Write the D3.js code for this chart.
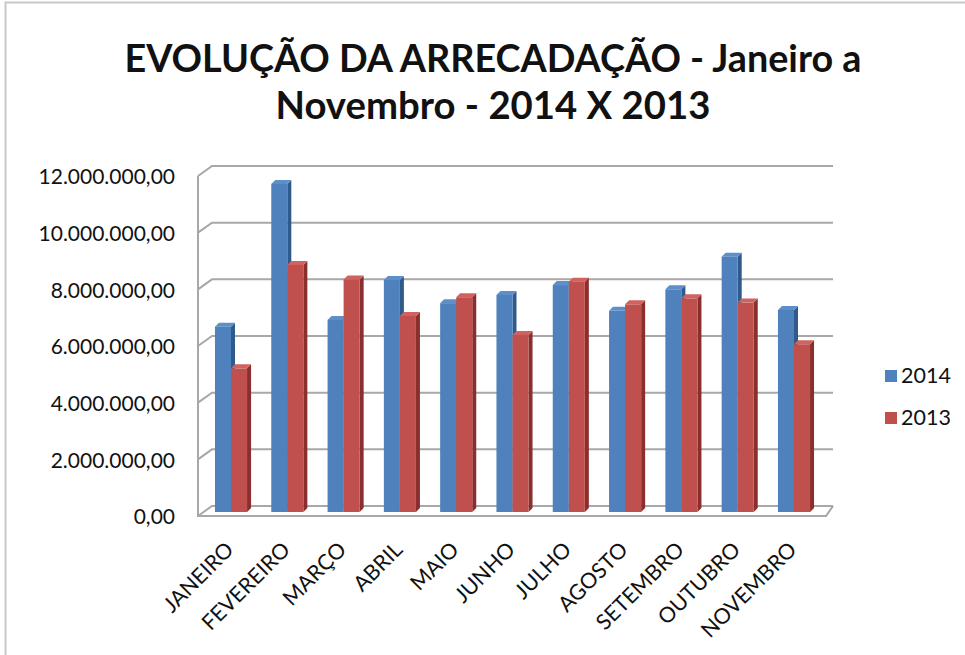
<!DOCTYPE html>
<html>
<head>
<meta charset="utf-8">
<script src="https://cdn.jsdelivr.net/npm/d3@7"></script>
<style>
  body { margin: 0; background: #fff; }
  text { font-family: Lato, "Open Sans", sans-serif; fill: #111; }
</style>
</head>
<body>
<svg width="965" height="655"></svg>
<script>
// data
var months = ["JANEIRO", "FEVEREIRO", "MARÇO", "ABRIL", "MAIO", "JUNHO",
              "JULHO", "AGOSTO", "SETEMBRO", "OUTUBRO", "NOVEMBRO"];
var series = ["2014", "2013"];
var v2014 = [6540000, 11580000, 6780000, 8190000, 7370000, 7660000,
             8010000, 7100000, 7860000, 9010000, 7130000];
var v2013 = [5070000, 8720000, 8210000, 6920000, 7580000, 6250000,
             8130000, 7330000, 7540000, 7390000, 5920000];
var yTicks = [0, 2000000, 4000000, 6000000, 8000000, 10000000, 12000000];
var titleLines = ["EVOLUÇÃO DA ARRECADAÇÃO - Janeiro a", "Novembro - 2014 X 2013"];

var colors = { "2014": { front: "#4f81bd", side: "#2f5a8c", top: "#5f8fca" },
               "2013": { front: "#c0504d", side: "#8a2f2d", top: "#d0625f" } };

var svg = d3.select("svg");

// frame of the chart object
svg.append("path").attr("d", "M5.5,655 L5.5,2.5 L965,2.5")
  .attr("fill", "none").attr("stroke", "#c8c8c8").attr("stroke-width", 2);

// title
svg.selectAll("text.title").data(titleLines).enter()
  .append("text").attr("class", "title")
  .attr("x", 493).attr("y", function(d, i) { return 72 + i * 47; })
  .attr("text-anchor", "middle")
  .attr("font-size", "38px").attr("font-weight", "bold")
  .attr("textLength", function(d, i) { return i == 0 ? 737 : 435; })
  .attr("lengthAdjust", "spacingAndGlyphs")
  .text(function(d) { return d; });

// scales
var x = d3.scaleBand().domain(months).range([203.7, 821.3])
  .paddingInner(0.43).paddingOuter(0.2);
var xs = d3.scaleBand().domain(series).range([0, x.bandwidth()]);
var yBar = d3.scaleLinear().domain([0, 12000000]).range([512, 172]);
var yWall = d3.scaleLinear().domain([0, 12000000]).range([516, 176]);
var wallLeft = 198, wallDx = 14, wallDy = -10, floorRight = 826;
var depth = 4;

var fmt = d3.formatLocale({ decimal: ",", thousands: ".", grouping: [3], currency: ["", ""] })
  .format(",.2f");

// gridlines: left wall diagonal + back wall line
var grid = svg.append("g").attr("fill", "none").attr("stroke", "#a8a8a8").attr("stroke-width", 2);
grid.selectAll("path").data(yTicks).enter().append("path")
  .attr("d", function(d) {
    var y = yWall(d);
    return "M" + wallLeft + "," + y + " L" + (wallLeft + wallDx) + "," + (y + wallDy) +
           " L" + (floorRight + 7) + "," + (y + wallDy);
  });
// left wall front edge and floor
grid.append("path")
  .attr("d", "M" + wallLeft + "," + yWall(12000000) + " L" + wallLeft + "," + yWall(0) +
             " L" + floorRight + "," + yWall(0) + " L" + (floorRight + 7) + "," + (yWall(0) + wallDy));

// y tick labels
svg.append("g").selectAll("text").data(yTicks).enter().append("text")
  .attr("x", 175).attr("y", function(d) { return yWall(d) + 3; })
  .attr("text-anchor", "end").attr("dominant-baseline", "middle")
  .attr("font-size", "21px")
  .text(function(d) { return fmt(d); });

// bars
var rows = months.map(function(m, i) {
  return { month: m, values: [{ s: "2014", v: v2014[i] }, { s: "2013", v: v2013[i] }] };
});
var groups = svg.append("g").selectAll("g").data(rows).enter().append("g")
  .attr("transform", function(d) { return "translate(" + x(d.month) + ",0)"; });
var bars = groups.selectAll("g").data(function(d) { return d.values; }).enter().append("g");
bars.append("path")
  .attr("fill", function(d) { return colors[d.s].side; })
  .attr("d", function(d) {
    var x0 = xs(d.s) + xs.bandwidth(), yt = yBar(d.v), yb = yBar(0);
    return "M" + x0 + "," + yt + " L" + (x0 + depth) + "," + (yt - depth) +
           " L" + (x0 + depth) + "," + (yb - depth) + " L" + x0 + "," + yb + "Z";
  });
bars.append("path")
  .attr("fill", function(d) { return colors[d.s].top; })
  .attr("d", function(d) {
    var x0 = xs(d.s), x1 = x0 + xs.bandwidth(), yt = yBar(d.v);
    return "M" + x0 + "," + yt + " L" + (x0 + depth) + "," + (yt - depth) +
           " L" + (x1 + depth) + "," + (yt - depth) + " L" + x1 + "," + yt + "Z";
  });
bars.append("rect")
  .attr("x", function(d) { return xs(d.s); })
  .attr("y", function(d) { return yBar(d.v); })
  .attr("width", xs.bandwidth())
  .attr("height", function(d) { return yBar(0) - yBar(d.v); })
  .attr("fill", function(d) { return colors[d.s].front; });

// x labels
svg.append("g").selectAll("text").data(months).enter().append("text")
  .attr("transform", function(d) {
    return "translate(" + (x(d) + x.bandwidth() / 2 + 4) + ",551) rotate(-45)";
  })
  .attr("text-anchor", "end").attr("font-size", "21.5px")
  .text(function(d) { return d; });

// legend
var legend = svg.append("g").selectAll("g").data(series).enter().append("g")
  .attr("transform", function(d, i) { return "translate(885," + (370 + i * 42) + ")"; });
legend.append("rect").attr("width", 12).attr("height", 12)
  .attr("fill", function(d) { return colors[d].front; });
legend.append("text").attr("x", 16).attr("y", 13).attr("font-size", "21.5px")
  .text(function(d) { return d; });
</script>
</body>
</html>
